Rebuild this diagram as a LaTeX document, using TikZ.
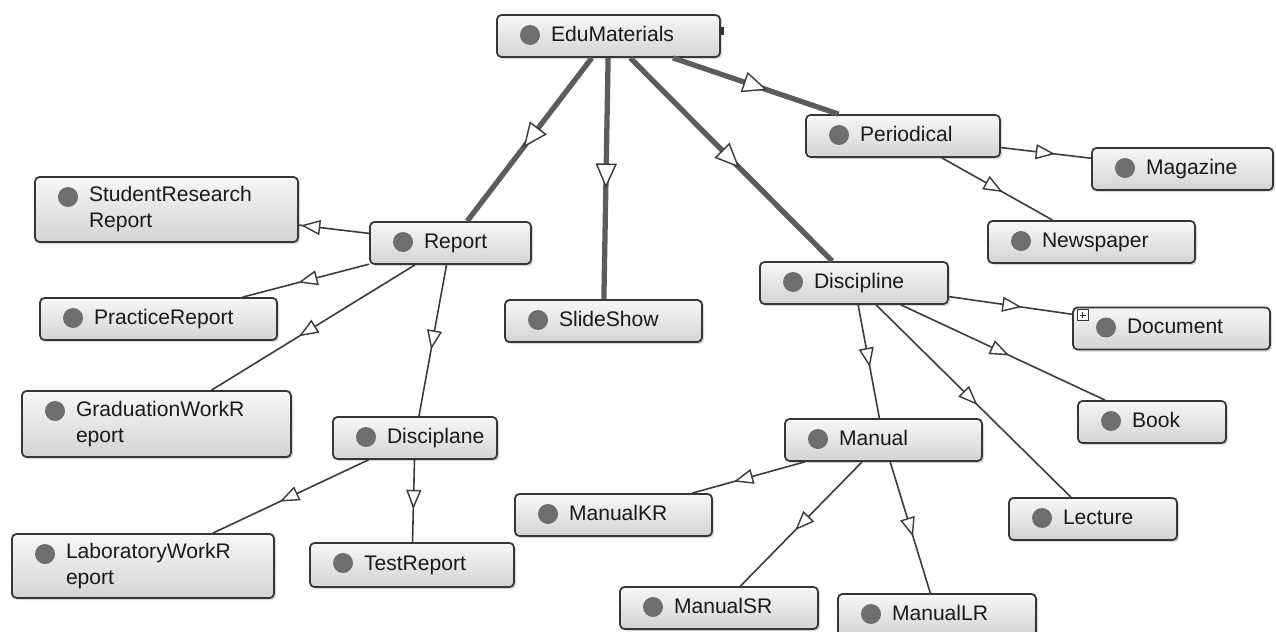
\documentclass[tikz,border=0pt]{standalone}
\usepackage{fontspec}
\setmainfont{Liberation Sans}
\usetikzlibrary{arrows.meta,decorations.markings,shadows}

\definecolor{boxline}{HTML}{363636}
\definecolor{dotgray}{HTML}{6E6E6E}
\definecolor{thickgray}{HTML}{5C5C5C}
\definecolor{thingray}{HTML}{3A3A3A}
\definecolor{txt}{HTML}{1A1A1A}

% indent of every text line, leaving room for the class dot
\newcommand\ind{\strut\hspace*{1.08cm}}

\tikzset{
  box/.style={draw=boxline, line width=1pt, rounded corners=2.5pt,
    top color=white!97!black, bottom color=white!83!black,
    drop shadow={opacity=0.3, shadow xshift=1.2pt, shadow yshift=-1.2pt},
    inner xsep=0pt, inner ysep=1pt, align=left, text=txt,
    font=\fontsize{12}{15}\selectfont, minimum height=0.84cm,
    path picture={\fill[dotgray] ([shift={(33,20)}]path picture bounding box.north west) circle (0.2cm);}},
  wd/.style={text width=#1},
  thickedge/.style={draw=thickgray, line width=3pt,
    postaction={decorate, decoration={markings, mark=at position #1 with
      {\arrow[thingray]{Triangle[fill=white, length=14pt, width=12pt, line width=0.8pt]}}}}},
  thinedge/.style={draw=thingray, line width=0.9pt,
    postaction={decorate, decoration={markings, mark=at position #1 with
      {\arrow[thingray]{Triangle[fill=white, length=11pt, width=8.5pt, line width=0.8pt]}}}}},
}

\begin{document}
\begin{tikzpicture}[x=0.02cm, y=-0.02cm]
\useasboundingbox (0,0) rectangle (1276,632);

% class boxes
\node[box, wd=4.46cm] (edu)        at (608.5,36)  {\ind EduMaterials};
\node[box, wd=3.88cm] (periodical) at (903,136)   {\ind Periodical};
\node[box, wd=3.62cm] (magazine)   at (1182.5,169){\ind Magazine};
\node[box, wd=4.14cm] (newspaper)  at (1091.5,242){\ind Newspaper};
\node[box, wd=3.76cm] (discipline) at (854,283)   {\ind Discipline};
\node[box, wd=3.94cm] (document)   at (1171.5,328.5){\ind Document};
\node[box, wd=2.96cm] (book)       at (1152,422)  {\ind Book};
\node[box, wd=3.36cm] (lecture)    at (1093,519)  {\ind Lecture};
\node[box, wd=3.94cm] (manual)     at (883.5,440) {\ind Manual};
\node[box, wd=3.94cm] (manualkr)   at (613.5,515) {\ind ManualKR};
\node[box, wd=3.96cm] (manualsr)   at (719,608)   {\ind ManualSR};
\node[box, wd=3.96cm] (manuallr)   at (937,615)   {\ind ManualLR};
\node[box, wd=3.94cm] (slideshow)  at (603.5,321) {\ind SlideShow};
\node[box, wd=3.22cm] (report)     at (450.5,243) {\ind Report};
\node[box, wd=5.26cm, minimum height=1.3cm]  (srr)  at (166.5,209.5) {\ind StudentResearch\\\ind Report};
\node[box, wd=4.74cm] (practice)   at (158.5,319) {\ind PracticeReport};
\node[box, wd=5.38cm, minimum height=1.32cm] (grad) at (156.5,424)   {\ind GraduationWorkR\\\ind eport};
\node[box, wd=3.28cm] (disciplane) at (415,438)   {\ind Disciplane};
\node[box, wd=5.24cm, minimum height=1.28cm] (lab)  at (143,566)     {\ind LaboratoryWorkR\\\ind eport};
\node[box, wd=4.08cm, minimum height=0.88cm] (test) at (412,565)     {\ind TestReport};

% expand marker on Document
\draw[boxline, line width=0.6pt, fill=white]
  ([shift={(5,3)}]document.north west) rectangle ++(11,11);
\draw[boxline, line width=0.7pt] ([shift={(7.5,8.5)}]document.north west) -- ++(6,0);
\draw[boxline, line width=0.7pt] ([shift={(10.5,5.5)}]document.north west) -- ++(0,6);

% small tab on EduMaterials
\fill[boxline] ([shift={(0,-9)}]edu.east) rectangle ++(3,8);

% subclass links from EduMaterials
\draw[thickedge=0.55] (edu) -- (report);
\draw[thickedge=0.54] (edu) -- (slideshow);
\draw[thickedge=0.54] (edu) -- (discipline);
\draw[thickedge=0.57] (edu) -- (periodical);

% Periodical
\draw[thinedge=0.6]  (periodical) -- (magazine);
\draw[thinedge=0.55] (periodical) -- (newspaper);

% Discipline
\draw[thinedge=0.59] (discipline) -- (document);
\draw[thinedge=0.53] (discipline) -- (book);
\draw[thinedge=0.52] (discipline) -- (lecture);
\draw[thinedge=0.55] (discipline) -- (manual);

% Manual
\draw[thinedge=0.63] (manual) -- (manualkr);
\draw[thinedge=0.55] (manual) -- (manualsr);
\draw[thinedge=0.57] (manual) -- (manuallr);

% Report
\draw[thinedge=0.97] (report) -- (srr);
\draw[thinedge=0.56] (report) -- (practice);
\draw[thinedge=0.57] (report) -- (grad);
\draw[thinedge=0.56] (report) -- (disciplane);

% Disciplane
\draw[thinedge=0.57] (disciplane) -- (lab);
\draw[thinedge=0.6]  (disciplane) -- (test);
\end{tikzpicture}
\end{document}
